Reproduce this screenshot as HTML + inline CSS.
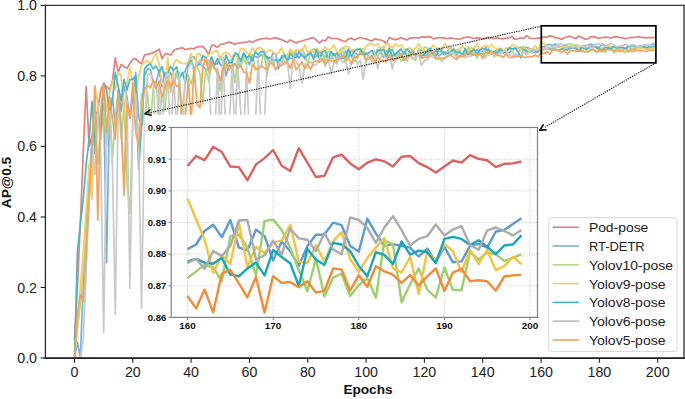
<!DOCTYPE html><html><head><meta charset="utf-8"><style>html,body{margin:0;padding:0;background:#fff;}svg{display:block;}</style></head><body><svg width="685" height="399" viewBox="0 0 685 399">
<defs><clipPath id="cm"><rect x="45.4" y="5.4" width="638.6" height="352.6"/></clipPath><clipPath id="ci"><rect x="171.2" y="127.5" width="366.3" height="189.9"/></clipPath></defs>
<rect width="685" height="399" fill="#fff"/>
<g clip-path="url(#cm)" fill="none" stroke-width="1.7" stroke-linejoin="round" stroke-linecap="butt" opacity="0.8">
<path d="M74.5,340.4 L77.4,287.5 L80.3,224.0 L83.2,153.5 L86.2,86.5 L89.1,146.4 L92.0,135.9 L94.9,114.7 L97.8,111.2 L100.7,90.0 L103.7,83.7 L106.6,86.5 L109.5,89.7 L112.4,81.2 L115.3,57.9 L118.2,72.4 L121.2,64.3 L124.1,66.8 L127.0,68.2 L129.9,63.6 L132.8,59.3 L135.7,58.6 L138.7,61.8 L141.6,63.9 L144.5,55.1 L147.4,54.4 L150.3,53.7 L153.2,52.6 L156.1,51.2 L159.1,49.1 L162.0,58.6 L164.9,54.4 L167.8,53.7 L170.7,55.1 L173.6,50.5 L176.6,49.1 L179.5,48.4 L182.4,47.7 L185.3,49.8 L188.2,48.8 L191.1,48.4 L194.1,48.8 L197.0,47.0 L199.9,46.7 L202.8,46.3 L205.7,49.8 L208.6,54.4 L211.6,45.6 L214.5,45.2 L217.4,47.4 L220.3,44.5 L223.2,43.8 L226.1,43.1 L229.0,42.1 L232.0,43.1 L234.9,44.5 L237.8,43.1 L240.7,42.8 L243.6,42.4 L246.5,42.1 L249.5,41.0 L252.4,42.4 L255.3,40.7 L258.2,39.6 L261.1,38.9 L264.0,38.5 L267.0,38.2 L269.9,39.2 L272.8,38.2 L275.7,37.8 L278.6,38.9 L281.5,39.6 L284.5,41.0 L287.4,42.4 L290.3,40.0 L293.2,41.4 L296.1,43.1 L299.0,41.7 L301.9,41.0 L304.9,40.0 L307.8,39.2 L310.7,38.2 L313.6,37.5 L316.5,40.3 L319.4,43.1 L322.4,40.0 L325.3,41.0 L328.2,36.8 L331.1,38.5 L334.0,38.5 L336.9,38.5 L339.9,39.6 L342.8,40.7 L345.7,41.7 L348.6,38.9 L351.5,38.2 L354.4,40.0 L357.4,38.5 L360.3,37.5 L363.2,38.5 L366.1,38.9 L369.0,40.0 L371.9,41.0 L374.8,38.9 L377.8,39.6 L380.7,40.0 L383.6,41.0 L386.5,43.5 L389.4,37.5 L392.3,38.9 L395.3,39.6 L398.2,38.9 L401.1,37.5 L404.0,38.9 L406.9,40.0 L409.8,38.2 L412.8,37.8 L415.7,37.5 L418.6,38.2 L421.5,36.8 L424.4,37.1 L427.3,36.8 L430.3,36.8 L433.2,38.9 L436.1,38.2 L439.0,37.5 L441.9,37.8 L444.8,38.2 L447.7,38.5 L450.7,37.8 L453.6,38.5 L456.5,38.9 L459.4,39.2 L462.3,38.2 L465.2,37.5 L468.2,36.8 L471.1,37.8 L474.0,38.5 L476.9,37.8 L479.8,38.2 L482.7,38.9 L485.7,38.2 L488.6,37.5 L491.5,38.2 L494.4,38.5 L497.3,37.8 L500.2,38.5 L503.2,38.9 L506.1,38.2 L509.0,37.8 L511.9,36.4 L514.8,39.2 L517.7,38.9 L520.6,37.8 L523.6,38.5 L526.5,35.7 L529.4,38.2 L532.3,38.5 L535.2,38.5 L538.1,38.2 L541.1,37.9 L544.0,36.8 L546.9,37.3 L549.8,35.8 L552.7,36.3 L555.6,38.0 L558.6,38.0 L561.5,39.5 L564.4,37.7 L567.3,37.0 L570.2,36.1 L573.1,37.9 L576.1,38.5 L579.0,35.9 L581.9,37.5 L584.8,39.1 L587.7,39.0 L590.6,36.9 L593.5,36.6 L596.5,37.6 L599.4,38.3 L602.3,37.5 L605.2,37.2 L608.1,37.4 L611.0,38.0 L614.0,36.9 L616.9,36.8 L619.8,37.6 L622.7,38.0 L625.6,38.6 L628.5,38.0 L631.5,37.3 L634.4,37.5 L637.3,36.7 L640.2,37.1 L643.1,37.3 L646.0,38.0 L649.0,37.7 L651.9,37.6 L654.8,37.4" stroke="#d9625f"/>
<path d="M74.5,358.0 L77.4,342.1 L80.3,358.0 L83.2,287.5 L86.2,224.0 L89.1,181.7 L92.0,139.4 L94.9,153.5 L97.8,111.2 L100.7,139.4 L103.7,104.1 L106.6,262.8 L109.5,111.2 L112.4,97.1 L115.3,125.3 L118.2,90.0 L121.2,111.2 L124.1,86.5 L127.0,97.1 L129.9,118.2 L132.8,97.1 L135.7,72.4 L138.7,118.2 L141.6,125.3 L144.5,75.9 L147.4,68.8 L150.3,69.0 L153.2,82.7 L156.1,82.3 L159.1,70.8 L162.0,86.5 L164.9,72.5 L167.8,77.5 L170.7,72.6 L173.6,84.7 L176.6,72.1 L179.5,77.9 L182.4,73.4 L185.3,71.0 L188.2,63.3 L191.1,56.4 L194.1,57.0 L197.0,62.6 L199.9,63.8 L202.8,66.1 L205.7,69.2 L208.6,69.1 L211.6,62.8 L214.5,64.7 L217.4,63.6 L220.3,56.5 L223.2,61.3 L226.1,75.9 L229.0,65.0 L232.0,67.7 L234.9,63.6 L237.8,65.9 L240.7,60.9 L243.6,54.3 L246.5,58.5 L249.5,64.8 L252.4,55.5 L255.3,56.6 L258.2,57.3 L261.1,55.0 L264.0,56.7 L267.0,56.3 L269.9,61.5 L272.8,53.6 L275.7,53.7 L278.6,68.9 L281.5,55.9 L284.5,56.3 L287.4,59.1 L290.3,58.1 L293.2,58.5 L296.1,53.2 L299.0,58.0 L301.9,54.0 L304.9,59.3 L307.8,53.1 L310.7,52.7 L313.6,57.6 L316.5,56.2 L319.4,52.1 L322.4,54.1 L325.3,56.6 L328.2,59.3 L331.1,58.0 L334.0,53.8 L336.9,59.4 L339.9,51.2 L342.8,57.9 L345.7,50.9 L348.6,57.1 L351.5,50.2 L354.4,52.6 L357.4,54.5 L360.3,54.2 L363.2,52.7 L366.1,53.2 L369.0,55.9 L371.9,56.8 L374.8,53.7 L377.8,49.5 L380.7,52.5 L383.6,57.7 L386.5,50.5 L389.4,51.4 L392.3,49.6 L395.3,56.2 L398.2,51.0 L401.1,57.3 L404.0,51.8 L406.9,55.1 L409.8,55.4 L412.8,49.6 L415.7,56.3 L418.6,52.6 L421.5,49.7 L424.4,54.8 L427.3,55.0 L430.3,49.3 L433.2,53.1 L436.1,50.6 L439.0,56.1 L441.9,53.3 L444.8,54.8 L447.7,50.7 L450.7,55.3 L453.6,48.4 L456.5,55.5 L459.4,50.0 L462.3,55.3 L465.2,53.4 L468.2,49.1 L471.1,53.9 L474.0,53.6 L476.9,49.8 L479.8,51.9 L482.7,54.2 L485.7,47.5 L488.6,53.2 L491.5,53.9 L494.4,51.7 L497.3,49.8 L500.2,48.8 L503.2,52.9 L506.1,51.3 L509.0,53.2 L511.9,50.4 L514.8,48.3 L517.7,48.4 L520.6,47.3 L523.6,48.1 L526.5,47.4 L529.4,48.3 L532.3,49.6 L535.2,50.9 L538.1,48.3 L541.1,47.2 L544.0,46.6 L546.9,45.1 L549.8,44.4 L552.7,45.8 L555.6,43.9 L558.6,47.0 L561.5,47.3 L564.4,45.0 L567.3,45.7 L570.2,48.4 L573.1,46.3 L576.1,47.4 L579.0,49.0 L581.9,46.8 L584.8,45.6 L587.7,45.5 L590.6,44.2 L593.5,44.5 L596.5,46.8 L599.4,47.4 L602.3,43.8 L605.2,45.4 L608.1,46.8 L611.0,46.6 L614.0,46.8 L616.9,47.0 L619.8,48.0 L622.7,47.1 L625.6,48.6 L628.5,46.9 L631.5,48.6 L634.4,48.5 L637.3,46.8 L640.2,46.6 L643.1,47.0 L646.0,45.2 L649.0,45.0 L651.9,44.4 L654.8,43.7" stroke="#5b9bd5"/>
<path d="M74.5,358.0 L77.4,329.8 L80.3,305.1 L83.2,269.9 L86.2,234.6 L89.1,199.3 L92.0,164.1 L94.9,118.2 L97.8,164.1 L100.7,125.3 L103.7,111.2 L106.6,146.4 L109.5,97.1 L112.4,160.5 L115.3,118.2 L118.2,93.5 L121.2,139.4 L124.1,104.1 L127.0,181.7 L129.9,213.4 L132.8,118.2 L135.7,86.5 L138.7,153.5 L141.6,93.5 L144.5,125.3 L147.4,92.7 L150.3,125.3 L153.2,88.9 L156.1,82.9 L159.1,118.2 L162.0,95.4 L164.9,111.2 L167.8,76.3 L170.7,89.8 L173.6,90.1 L176.6,71.8 L179.5,83.9 L182.4,111.2 L185.3,81.2 L188.2,75.1 L191.1,84.0 L194.1,72.1 L197.0,66.1 L199.9,73.3 L202.8,104.1 L205.7,68.5 L208.6,81.4 L211.6,65.2 L214.5,68.3 L217.4,74.0 L220.3,91.1 L223.2,60.3 L226.1,68.3 L229.0,62.4 L232.0,58.4 L234.9,83.0 L237.8,56.4 L240.7,67.0 L243.6,57.8 L246.5,64.7 L249.5,53.9 L252.4,54.5 L255.3,70.1 L258.2,68.7 L261.1,66.4 L264.0,50.6 L267.0,75.9 L269.9,57.2 L272.8,63.6 L275.7,59.3 L278.6,61.6 L281.5,62.1 L284.5,57.3 L287.4,57.2 L290.3,50.9 L293.2,55.0 L296.1,50.2 L299.0,51.5 L301.9,48.8 L304.9,54.7 L307.8,64.1 L310.7,50.9 L313.6,48.9 L316.5,49.9 L319.4,55.9 L322.4,53.2 L325.3,62.1 L328.2,50.8 L331.1,55.3 L334.0,60.2 L336.9,63.9 L339.9,50.0 L342.8,47.5 L345.7,62.9 L348.6,50.5 L351.5,57.0 L354.4,61.3 L357.4,58.7 L360.3,50.6 L363.2,48.7 L366.1,62.3 L369.0,52.8 L371.9,62.0 L374.8,51.1 L377.8,57.2 L380.7,48.4 L383.6,46.8 L386.5,54.3 L389.4,46.5 L392.3,57.2 L395.3,60.7 L398.2,52.6 L401.1,61.2 L404.0,58.5 L406.9,55.3 L409.8,52.2 L412.8,58.9 L415.7,60.4 L418.6,48.4 L421.5,56.3 L424.4,47.0 L427.3,47.9 L430.3,55.2 L433.2,54.0 L436.1,53.1 L439.0,51.3 L441.9,51.9 L444.8,52.4 L447.7,51.5 L450.7,47.2 L453.6,52.9 L456.5,53.8 L459.4,50.0 L462.3,56.1 L465.2,55.2 L468.2,46.6 L471.1,52.2 L474.0,51.8 L476.9,58.3 L479.8,53.3 L482.7,51.2 L485.7,57.8 L488.6,50.6 L491.5,50.4 L494.4,57.0 L497.3,50.3 L500.2,52.1 L503.2,49.6 L506.1,53.2 L509.0,49.1 L511.9,48.7 L514.8,56.5 L517.7,55.9 L520.6,49.2 L523.6,46.1 L526.5,53.5 L529.4,51.3 L532.3,49.8 L535.2,52.5 L538.1,52.0 L541.1,50.4 L544.0,49.6 L546.9,48.9 L549.8,49.2 L552.7,50.7 L555.6,45.7 L558.6,45.5 L561.5,47.0 L564.4,50.1 L567.3,44.0 L570.2,43.9 L573.1,45.0 L576.1,47.0 L579.0,49.5 L581.9,51.8 L584.8,48.2 L587.7,52.4 L590.6,50.3 L593.5,49.9 L596.5,52.4 L599.4,51.2 L602.3,50.4 L605.2,52.6 L608.1,46.2 L611.0,46.6 L614.0,53.1 L616.9,51.1 L619.8,49.3 L622.7,51.7 L625.6,52.6 L628.5,49.2 L631.5,51.7 L634.4,51.7 L637.3,47.5 L640.2,48.3 L643.1,47.5 L646.0,47.7 L649.0,48.5 L651.9,48.1 L654.8,47.7" stroke="#9bd16a"/>
<path d="M74.5,358.0 L77.4,322.7 L80.3,287.5 L83.2,252.2 L86.2,209.9 L89.1,164.1 L92.0,199.3 L94.9,86.5 L97.8,104.1 L100.7,139.4 L103.7,84.0 L106.6,111.2 L109.5,93.5 L112.4,80.5 L115.3,90.0 L118.2,72.4 L121.2,75.9 L124.1,111.2 L127.0,83.0 L129.9,67.5 L132.8,83.0 L135.7,97.1 L138.7,75.9 L141.6,64.6 L144.5,62.5 L147.4,60.1 L150.3,64.3 L153.2,58.3 L156.1,53.0 L159.1,64.3 L162.0,83.0 L164.9,90.0 L167.8,57.4 L170.7,92.5 L173.6,63.8 L176.6,59.6 L179.5,62.4 L182.4,63.3 L185.3,63.7 L188.2,62.1 L191.1,53.2 L194.1,75.9 L197.0,54.0 L199.9,53.7 L202.8,60.5 L205.7,58.7 L208.6,54.7 L211.6,53.1 L214.5,51.4 L217.4,50.8 L220.3,59.5 L223.2,53.3 L226.1,52.4 L229.0,54.0 L232.0,57.4 L234.9,53.9 L237.8,57.9 L240.7,48.3 L243.6,48.9 L246.5,52.1 L249.5,54.6 L252.4,47.8 L255.3,51.2 L258.2,47.6 L261.1,47.8 L264.0,51.1 L267.0,52.0 L269.9,50.0 L272.8,51.7 L275.7,54.4 L278.6,52.8 L281.5,47.4 L284.5,55.2 L287.4,55.1 L290.3,49.1 L293.2,52.4 L296.1,49.8 L299.0,50.3 L301.9,51.5 L304.9,44.9 L307.8,52.7 L310.7,50.5 L313.6,52.4 L316.5,48.1 L319.4,51.5 L322.4,50.6 L325.3,46.8 L328.2,50.7 L331.1,48.4 L334.0,45.0 L336.9,52.4 L339.9,52.7 L342.8,51.0 L345.7,46.0 L348.6,47.3 L351.5,50.6 L354.4,49.6 L357.4,50.9 L360.3,48.3 L363.2,51.8 L366.1,46.0 L369.0,44.2 L371.9,43.7 L374.8,45.6 L377.8,43.7 L380.7,51.7 L383.6,49.4 L386.5,43.6 L389.4,45.2 L392.3,48.2 L395.3,43.8 L398.2,46.5 L401.1,44.8 L404.0,49.1 L406.9,49.9 L409.8,47.8 L412.8,50.2 L415.7,48.2 L418.6,43.7 L421.5,48.6 L424.4,51.0 L427.3,50.7 L430.3,49.7 L433.2,45.0 L436.1,48.2 L439.0,48.7 L441.9,50.1 L444.8,43.5 L447.7,47.6 L450.7,49.2 L453.6,50.2 L456.5,50.2 L459.4,49.4 L462.3,45.8 L465.2,49.6 L468.2,50.3 L471.1,47.2 L474.0,48.9 L476.9,43.8 L479.8,49.8 L482.7,47.0 L485.7,45.4 L488.6,47.9 L491.5,44.1 L494.4,47.5 L497.3,49.0 L500.2,48.0 L503.2,50.3 L506.1,47.9 L509.0,49.0 L511.9,45.1 L514.8,45.5 L517.7,47.5 L520.6,50.4 L523.6,49.0 L526.5,49.1 L529.4,49.3 L532.3,49.2 L535.2,45.5 L538.1,49.7 L541.1,41.5 L544.0,43.8 L546.9,46.1 L549.8,49.8 L552.7,47.8 L555.6,48.8 L558.6,44.3 L561.5,49.1 L564.4,46.9 L567.3,47.6 L570.2,46.4 L573.1,46.2 L576.1,44.4 L579.0,48.5 L581.9,48.7 L584.8,46.7 L587.7,48.5 L590.6,46.3 L593.5,45.2 L596.5,48.2 L599.4,49.7 L602.3,48.1 L605.2,47.0 L608.1,45.9 L611.0,49.3 L614.0,49.8 L616.9,48.0 L619.8,52.1 L622.7,47.5 L625.6,48.4 L628.5,46.6 L631.5,47.4 L634.4,49.7 L637.3,47.3 L640.2,48.8 L643.1,47.3 L646.0,49.5 L649.0,49.0 L651.9,48.0 L654.8,48.9" stroke="#f3c241"/>
<path d="M74.5,358.0 L77.4,252.2 L80.3,224.0 L83.2,199.3 L86.2,164.1 L89.1,139.4 L92.0,101.7 L94.9,146.4 L97.8,111.2 L100.7,132.3 L103.7,83.0 L106.6,90.0 L109.5,112.9 L112.4,100.6 L115.3,72.4 L118.2,86.5 L121.2,100.6 L124.1,79.4 L127.0,90.0 L129.9,79.4 L132.8,79.4 L135.7,75.9 L138.7,169.4 L141.6,125.3 L144.5,68.9 L147.4,65.3 L150.3,63.9 L153.2,68.9 L156.1,66.0 L159.1,72.4 L162.0,66.6 L164.9,78.9 L167.8,72.9 L170.7,66.4 L173.6,70.4 L176.6,67.0 L179.5,77.6 L182.4,72.8 L185.3,83.0 L188.2,64.8 L191.1,60.8 L194.1,68.0 L197.0,65.2 L199.9,64.1 L202.8,55.7 L205.7,57.5 L208.6,65.1 L211.6,56.8 L214.5,65.0 L217.4,58.7 L220.3,64.7 L223.2,66.0 L226.1,55.0 L229.0,62.9 L232.0,62.6 L234.9,53.0 L237.8,54.1 L240.7,61.0 L243.6,52.6 L246.5,57.5 L249.5,55.6 L252.4,61.0 L255.3,52.0 L258.2,54.8 L261.1,51.3 L264.0,52.0 L267.0,58.7 L269.9,57.9 L272.8,60.0 L275.7,60.1 L278.6,60.9 L281.5,58.2 L284.5,54.7 L287.4,61.2 L290.3,53.7 L293.2,57.3 L296.1,57.5 L299.0,51.9 L301.9,55.4 L304.9,57.1 L307.8,55.2 L310.7,52.7 L313.6,59.5 L316.5,49.7 L319.4,59.6 L322.4,51.9 L325.3,50.9 L328.2,59.2 L331.1,51.3 L334.0,55.5 L336.9,53.2 L339.9,58.8 L342.8,58.3 L345.7,56.8 L348.6,49.2 L351.5,56.5 L354.4,50.9 L357.4,49.2 L360.3,49.0 L363.2,54.6 L366.1,54.4 L369.0,52.7 L371.9,50.4 L374.8,56.5 L377.8,50.6 L380.7,50.1 L383.6,49.5 L386.5,56.9 L389.4,48.8 L392.3,56.3 L395.3,54.0 L398.2,51.6 L401.1,49.0 L404.0,53.9 L406.9,48.9 L409.8,52.1 L412.8,54.0 L415.7,53.9 L418.6,55.0 L421.5,55.8 L424.4,55.2 L427.3,50.7 L430.3,48.2 L433.2,54.9 L436.1,55.7 L439.0,48.3 L441.9,51.8 L444.8,52.8 L447.7,54.0 L450.7,51.3 L453.6,49.5 L456.5,52.2 L459.4,52.4 L462.3,55.1 L465.2,48.7 L468.2,55.1 L471.1,51.7 L474.0,49.2 L476.9,54.2 L479.8,49.9 L482.7,48.4 L485.7,50.5 L488.6,49.4 L491.5,54.0 L494.4,51.7 L497.3,53.5 L500.2,48.9 L503.2,52.5 L506.1,51.4 L509.0,47.9 L511.9,48.8 L514.8,48.0 L517.7,51.2 L520.6,57.9 L523.6,49.4 L526.5,50.9 L529.4,52.0 L532.3,51.2 L535.2,52.7 L538.1,51.3 L541.1,48.5 L544.0,48.2 L546.9,48.7 L549.8,48.8 L552.7,48.1 L555.6,50.0 L558.6,50.2 L561.5,49.3 L564.4,48.7 L567.3,50.1 L570.2,47.3 L573.1,48.0 L576.1,48.7 L579.0,51.3 L581.9,47.1 L584.8,48.3 L587.7,48.9 L590.6,46.5 L593.5,46.6 L596.5,47.4 L599.4,49.0 L602.3,50.2 L605.2,47.5 L608.1,47.8 L611.0,48.8 L614.0,46.3 L616.9,47.8 L619.8,47.3 L622.7,47.5 L625.6,48.7 L628.5,46.0 L631.5,45.8 L634.4,46.0 L637.3,46.7 L640.2,46.2 L643.1,46.9 L646.0,47.7 L649.0,46.8 L651.9,46.6 L654.8,45.6" stroke="#1ba5b8"/>
<path d="M74.5,358.0 L77.4,358.0 L80.3,358.0 L83.2,340.4 L86.2,269.9 L89.1,199.3 L92.0,146.4 L94.9,174.6 L97.8,111.2 L100.7,153.5 L103.7,332.3 L106.6,125.3 L109.5,111.2 L112.4,164.1 L115.3,314.3 L118.2,104.1 L121.2,125.3 L124.1,181.7 L127.0,100.6 L129.9,288.5 L132.8,118.2 L135.7,93.5 L138.7,146.4 L141.6,308.3 L144.5,128.8 L147.4,74.6 L150.3,73.9 L153.2,78.9 L156.1,139.4 L159.1,85.7 L162.0,135.9 L164.9,78.0 L167.8,73.4 L170.7,146.4 L173.6,72.7 L176.6,132.3 L179.5,71.8 L182.4,139.4 L185.3,73.6 L188.2,68.3 L191.1,62.7 L194.1,69.4 L197.0,63.9 L199.9,60.0 L202.8,67.2 L205.7,59.3 L208.6,60.6 L211.6,139.4 L214.5,146.4 L217.4,67.8 L220.3,139.4 L223.2,57.8 L226.1,146.4 L229.0,132.3 L232.0,66.3 L234.9,135.9 L237.8,65.3 L240.7,111.9 L243.6,139.4 L246.5,66.8 L249.5,139.4 L252.4,132.3 L255.3,125.3 L258.2,58.1 L261.1,132.3 L264.0,132.3 L267.0,61.0 L269.9,59.5 L272.8,57.3 L275.7,68.9 L278.6,64.6 L281.5,61.6 L284.5,65.0 L287.4,61.5 L290.3,88.3 L293.2,57.8 L296.1,61.8 L299.0,66.5 L301.9,83.0 L304.9,63.9 L307.8,65.1 L310.7,61.7 L313.6,65.5 L316.5,64.5 L319.4,57.0 L322.4,58.8 L325.3,66.2 L328.2,57.6 L331.1,74.2 L334.0,62.2 L336.9,56.0 L339.9,58.9 L342.8,62.1 L345.7,61.2 L348.6,73.8 L351.5,63.5 L354.4,54.4 L357.4,64.0 L360.3,60.0 L363.2,79.4 L366.1,60.0 L369.0,54.1 L371.9,61.3 L374.8,53.9 L377.8,68.9 L380.7,56.8 L383.6,54.6 L386.5,58.7 L389.4,54.9 L392.3,68.9 L395.3,57.7 L398.2,58.0 L401.1,55.7 L404.0,58.3 L406.9,61.1 L409.8,55.0 L412.8,59.2 L415.7,57.1 L418.6,54.4 L421.5,65.3 L424.4,60.7 L427.3,59.7 L430.3,55.7 L433.2,57.5 L436.1,58.2 L439.0,56.5 L441.9,61.8 L444.8,57.8 L447.7,56.4 L450.7,52.6 L453.6,54.6 L456.5,57.2 L459.4,55.4 L462.3,55.3 L465.2,57.7 L468.2,55.8 L471.1,56.2 L474.0,52.4 L476.9,55.8 L479.8,53.3 L482.7,50.9 L485.7,51.2 L488.6,54.9 L491.5,53.2 L494.4,55.0 L497.3,54.4 L500.2,53.7 L503.2,51.5 L506.1,50.5 L509.0,54.6 L511.9,56.3 L514.8,53.3 L517.7,55.6 L520.6,55.7 L523.6,51.0 L526.5,54.9 L529.4,51.1 L532.3,53.1 L535.2,49.6 L538.1,50.0 L541.1,48.7 L544.0,48.2 L546.9,49.4 L549.8,47.4 L552.7,47.9 L555.6,46.8 L558.6,44.0 L561.5,43.9 L564.4,48.3 L567.3,47.8 L570.2,46.2 L573.1,47.8 L576.1,44.9 L579.0,46.0 L581.9,46.1 L584.8,47.4 L587.7,45.3 L590.6,47.2 L593.5,47.7 L596.5,43.6 L599.4,43.9 L602.3,44.8 L605.2,46.5 L608.1,44.7 L611.0,43.5 L614.0,45.0 L616.9,46.8 L619.8,46.0 L622.7,45.7 L625.6,44.4 L628.5,45.6 L631.5,45.0 L634.4,44.6 L637.3,46.7 L640.2,47.2 L643.1,45.1 L646.0,44.7 L649.0,45.1 L651.9,45.6 L654.8,45.0" stroke="#bcbcbc"/>
<path d="M74.5,358.0 L77.4,315.7 L80.3,294.5 L83.2,301.6 L86.2,252.2 L89.1,199.3 L92.0,146.4 L94.9,85.8 L97.8,220.5 L100.7,111.2 L103.7,83.0 L106.6,132.3 L109.5,97.1 L112.4,118.2 L115.3,139.4 L118.2,93.5 L121.2,125.3 L124.1,195.1 L127.0,104.1 L129.9,118.2 L132.8,83.0 L135.7,132.3 L138.7,146.4 L141.6,111.2 L144.5,90.0 L147.4,85.4 L150.3,87.8 L153.2,79.8 L156.1,88.4 L159.1,81.1 L162.0,97.1 L164.9,87.7 L167.8,80.7 L170.7,87.4 L173.6,81.2 L176.6,86.3 L179.5,85.7 L182.4,125.3 L185.3,118.2 L188.2,79.0 L191.1,121.8 L194.1,67.7 L197.0,104.1 L199.9,107.7 L202.8,67.9 L205.7,58.6 L208.6,71.8 L211.6,60.5 L214.5,68.5 L217.4,70.6 L220.3,80.9 L223.2,68.5 L226.1,61.7 L229.0,70.3 L232.0,65.0 L234.9,64.4 L237.8,68.0 L240.7,65.8 L243.6,72.2 L246.5,72.3 L249.5,83.0 L252.4,64.4 L255.3,67.8 L258.2,69.3 L261.1,65.9 L264.0,67.7 L267.0,69.4 L269.9,63.1 L272.8,64.1 L275.7,69.6 L278.6,65.4 L281.5,65.8 L284.5,61.4 L287.4,63.0 L290.3,68.2 L293.2,59.8 L296.1,69.8 L299.0,66.1 L301.9,62.0 L304.9,68.8 L307.8,64.8 L310.7,69.5 L313.6,62.0 L316.5,60.6 L319.4,62.4 L322.4,58.7 L325.3,64.6 L328.2,60.0 L331.1,60.8 L334.0,60.6 L336.9,61.6 L339.9,57.1 L342.8,55.7 L345.7,60.3 L348.6,58.0 L351.5,63.9 L354.4,56.9 L357.4,57.1 L360.3,53.3 L363.2,54.7 L366.1,59.7 L369.0,58.7 L371.9,55.8 L374.8,62.1 L377.8,57.7 L380.7,60.5 L383.6,60.9 L386.5,61.4 L389.4,54.6 L392.3,60.5 L395.3,59.3 L398.2,57.9 L401.1,53.5 L404.0,60.6 L406.9,57.2 L409.8,56.3 L412.8,53.2 L415.7,53.8 L418.6,53.4 L421.5,58.4 L424.4,57.1 L427.3,57.6 L430.3,53.1 L433.2,52.4 L436.1,59.1 L439.0,58.8 L441.9,58.2 L444.8,58.1 L447.7,56.1 L450.7,55.2 L453.6,57.7 L456.5,59.6 L459.4,56.3 L462.3,56.6 L465.2,55.1 L468.2,52.1 L471.1,54.1 L474.0,55.3 L476.9,54.5 L479.8,54.0 L482.7,58.4 L485.7,52.4 L488.6,53.2 L491.5,52.5 L494.4,53.0 L497.3,55.7 L500.2,55.6 L503.2,57.4 L506.1,53.9 L509.0,57.5 L511.9,57.4 L514.8,56.4 L517.7,56.6 L520.6,55.5 L523.6,57.1 L526.5,57.4 L529.4,56.4 L532.3,56.6 L535.2,55.0 L538.1,56.8 L541.1,52.4 L544.0,53.8 L546.9,51.7 L549.8,54.2 L552.7,49.9 L555.6,49.5 L558.6,51.0 L561.5,52.5 L564.4,50.2 L567.3,54.2 L570.2,50.2 L573.1,50.9 L576.1,50.8 L579.0,51.4 L581.9,50.7 L584.8,52.0 L587.7,51.8 L590.6,49.3 L593.5,49.4 L596.5,51.8 L599.4,50.1 L602.3,51.4 L605.2,49.1 L608.1,49.6 L611.0,50.0 L614.0,50.9 L616.9,50.1 L619.8,51.2 L622.7,50.2 L625.6,49.3 L628.5,51.8 L631.5,49.8 L634.4,49.4 L637.3,50.7 L640.2,50.6 L643.1,50.7 L646.0,51.8 L649.0,50.2 L651.9,50.1 L654.8,50.0" stroke="#f08c35"/>
</g>
<rect x="541.3" y="25.8" width="114.6" height="37.0" fill="none" stroke="#000" stroke-width="1.7"/>
<g stroke="#111" stroke-width="1.1" stroke-dasharray="1.3,1.1" fill="none"><line x1="540.8" y1="26.3" x2="146" y2="113.6"/><line x1="655.9" y1="62.8" x2="541.5" y2="129.2"/></g>
<rect x="144.6" y="114.7" width="400" height="224" fill="#fff"/>
<g stroke="#c4c4c4" stroke-width="0.8" stroke-dasharray="1.2,1.3" fill="none">
<line x1="187.5" y1="127.5" x2="187.5" y2="317.4"/>
<line x1="273.1" y1="127.5" x2="273.1" y2="317.4"/>
<line x1="358.8" y1="127.5" x2="358.8" y2="317.4"/>
<line x1="444.4" y1="127.5" x2="444.4" y2="317.4"/>
<line x1="530.0" y1="127.5" x2="530.0" y2="317.4"/>
<line x1="171.2" y1="317.4" x2="537.5" y2="317.4"/>
<line x1="171.2" y1="285.8" x2="537.5" y2="285.8"/>
<line x1="171.2" y1="254.1" x2="537.5" y2="254.1"/>
<line x1="171.2" y1="222.5" x2="537.5" y2="222.5"/>
<line x1="171.2" y1="190.8" x2="537.5" y2="190.8"/>
<line x1="171.2" y1="159.2" x2="537.5" y2="159.2"/>
<line x1="171.2" y1="127.5" x2="537.5" y2="127.5"/>
</g>
<g clip-path="url(#ci)" fill="none" stroke-width="2.4" stroke-linejoin="round">
<path d="M187.5,166.0 L196.1,156.0 L204.6,160.2 L213.2,146.8 L221.8,152.1 L230.3,166.5 L238.9,167.1 L247.4,180.2 L256.0,164.4 L264.6,158.1 L273.1,150.0 L281.7,165.7 L290.2,171.0 L298.8,148.1 L307.4,162.6 L315.9,177.0 L324.5,175.7 L333.1,157.3 L341.6,154.7 L350.2,163.4 L358.8,169.2 L367.3,162.6 L375.9,159.4 L384.4,161.3 L393.0,166.5 L401.6,156.8 L410.1,156.0 L418.7,163.1 L427.2,167.1 L435.8,172.6 L444.4,166.5 L452.9,160.5 L461.5,162.6 L470.1,155.2 L478.6,158.9 L487.2,160.2 L495.8,167.1 L504.3,163.9 L512.9,163.4 L521.4,161.5" stroke="#d9625f"/>
<path d="M187.5,249.1 L196.1,244.5 L204.6,231.0 L213.2,224.8 L221.8,237.1 L230.3,220.1 L238.9,247.6 L247.4,250.3 L256.0,229.6 L264.6,236.2 L273.1,260.5 L281.7,241.5 L290.2,251.2 L298.8,265.8 L307.4,245.9 L315.9,234.8 L324.5,234.5 L333.1,222.6 L341.6,225.2 L350.2,245.9 L358.8,251.5 L367.3,218.7 L375.9,233.6 L384.4,245.9 L393.0,244.1 L401.6,245.9 L410.1,247.6 L418.7,256.5 L427.2,248.5 L435.8,262.0 L444.4,246.8 L452.9,262.3 L461.5,261.4 L470.1,245.9 L478.6,243.8 L487.2,247.6 L495.8,231.5 L504.3,230.1 L512.9,224.0 L521.4,218.2" stroke="#5b9bd5"/>
<path d="M187.5,278.1 L196.1,271.4 L204.6,264.9 L213.2,267.5 L221.8,281.2 L230.3,236.2 L238.9,234.5 L247.4,247.6 L256.0,275.4 L264.6,221.0 L273.1,219.6 L281.7,230.1 L290.2,247.6 L298.8,270.0 L307.4,291.2 L315.9,258.8 L324.5,296.5 L333.1,277.7 L341.6,273.7 L350.2,296.0 L358.8,285.1 L367.3,278.1 L375.9,297.7 L384.4,240.6 L393.0,244.1 L401.6,302.3 L410.1,284.2 L418.7,268.4 L427.2,289.5 L435.8,297.7 L444.4,267.5 L452.9,290.0 L461.5,290.0 L470.1,251.8 L478.6,259.6 L487.2,252.6 L495.8,254.4 L504.3,260.9 L512.9,257.9 L521.4,254.4" stroke="#9bd16a"/>
<path d="M187.5,198.5 L196.1,219.2 L204.6,239.8 L213.2,272.8 L221.8,255.3 L230.3,264.0 L238.9,223.1 L247.4,266.7 L256.0,246.8 L264.6,252.9 L273.1,242.4 L281.7,240.6 L290.2,224.8 L298.8,261.4 L307.4,263.2 L315.9,245.0 L324.5,261.4 L333.1,241.5 L341.6,231.9 L350.2,258.8 L358.8,271.9 L367.3,257.9 L375.9,247.6 L384.4,238.0 L393.0,268.4 L401.6,272.5 L410.1,257.0 L418.7,293.9 L427.2,251.8 L435.8,260.5 L444.4,244.1 L452.9,251.2 L461.5,271.9 L470.1,250.0 L478.6,264.0 L487.2,250.0 L495.8,270.2 L504.3,266.1 L512.9,256.7 L521.4,264.4" stroke="#f3c241"/>
<path d="M187.5,261.4 L196.1,258.8 L204.6,262.6 L213.2,263.7 L221.8,257.9 L230.3,274.6 L238.9,276.3 L247.4,268.4 L256.0,262.6 L264.6,275.4 L273.1,250.0 L281.7,257.0 L290.2,263.2 L298.8,286.0 L307.4,249.0 L315.9,259.6 L324.5,264.9 L333.1,242.9 L341.6,244.5 L350.2,251.2 L358.8,266.0 L367.3,276.3 L375.9,252.1 L384.4,254.9 L393.0,264.0 L401.6,241.5 L410.1,254.6 L418.7,250.6 L427.2,252.3 L435.8,263.2 L444.4,238.9 L452.9,236.8 L461.5,238.9 L470.1,245.0 L478.6,240.3 L487.2,246.8 L495.8,254.1 L504.3,245.5 L512.9,244.5 L521.4,235.4" stroke="#1ba5b8"/>
<path d="M187.5,263.2 L196.1,258.8 L204.6,268.9 L213.2,251.0 L221.8,256.0 L230.3,245.9 L238.9,220.5 L247.4,219.9 L256.0,259.6 L264.6,255.3 L273.1,240.6 L281.7,254.7 L290.2,228.7 L298.8,238.4 L307.4,239.8 L315.9,251.2 L324.5,232.7 L333.1,249.4 L341.6,254.3 L350.2,217.5 L358.8,219.8 L367.3,227.8 L375.9,242.9 L384.4,227.5 L393.0,216.1 L401.6,230.1 L410.1,245.5 L418.7,238.9 L427.2,236.2 L435.8,224.5 L444.4,235.4 L452.9,229.6 L461.5,226.2 L470.1,245.0 L478.6,249.8 L487.2,230.6 L495.8,227.5 L504.3,231.0 L512.9,235.4 L521.4,230.1" stroke="#ababab"/>
<path d="M187.5,296.0 L196.1,308.4 L204.6,289.5 L213.2,312.3 L221.8,273.7 L230.3,269.8 L238.9,283.3 L247.4,297.4 L256.0,276.7 L264.6,312.6 L273.1,276.1 L281.7,283.0 L290.2,281.9 L298.8,287.2 L307.4,281.2 L315.9,292.6 L324.5,290.7 L333.1,268.4 L341.6,269.6 L350.2,290.7 L358.8,275.2 L367.3,286.8 L375.9,266.3 L384.4,271.4 L393.0,274.6 L401.6,282.8 L410.1,275.1 L418.7,285.6 L427.2,276.3 L435.8,268.4 L444.4,291.0 L452.9,272.6 L461.5,268.9 L470.1,281.2 L478.6,280.2 L487.2,281.2 L495.8,290.7 L504.3,276.3 L512.9,275.4 L521.4,274.9" stroke="#f08c35"/>
</g>
<rect x="171.2" y="127.5" width="366.3" height="189.9" fill="none" stroke="#808080" stroke-width="1.2"/>
<g stroke="#808080" stroke-width="1">
<line x1="187.5" y1="317.4" x2="187.5" y2="320"/>
<line x1="273.1" y1="317.4" x2="273.1" y2="320"/>
<line x1="358.8" y1="317.4" x2="358.8" y2="320"/>
<line x1="444.4" y1="317.4" x2="444.4" y2="320"/>
<line x1="530.0" y1="317.4" x2="530.0" y2="320"/>
<line x1="168.6" y1="317.4" x2="171.2" y2="317.4"/>
<line x1="168.6" y1="285.8" x2="171.2" y2="285.8"/>
<line x1="168.6" y1="254.1" x2="171.2" y2="254.1"/>
<line x1="168.6" y1="222.5" x2="171.2" y2="222.5"/>
<line x1="168.6" y1="190.8" x2="171.2" y2="190.8"/>
<line x1="168.6" y1="159.2" x2="171.2" y2="159.2"/>
<line x1="168.6" y1="127.5" x2="171.2" y2="127.5"/>
</g>
<g font-family="Liberation Sans, sans-serif" font-weight="bold" font-size="8.8" fill="#111">
<text x="187.5" y="328.9" text-anchor="middle" textLength="16.5" lengthAdjust="spacingAndGlyphs">160</text>
<text x="273.1" y="328.9" text-anchor="middle" textLength="16.5" lengthAdjust="spacingAndGlyphs">170</text>
<text x="358.8" y="328.9" text-anchor="middle" textLength="16.5" lengthAdjust="spacingAndGlyphs">180</text>
<text x="444.4" y="328.9" text-anchor="middle" textLength="16.5" lengthAdjust="spacingAndGlyphs">190</text>
<text x="530.0" y="328.9" text-anchor="middle" textLength="16.5" lengthAdjust="spacingAndGlyphs">200</text>
<text x="166.4" y="320.7" text-anchor="end" textLength="18.6" lengthAdjust="spacingAndGlyphs">0.86</text>
<text x="166.4" y="289.1" text-anchor="end" textLength="18.6" lengthAdjust="spacingAndGlyphs">0.87</text>
<text x="166.4" y="257.4" text-anchor="end" textLength="18.6" lengthAdjust="spacingAndGlyphs">0.88</text>
<text x="166.4" y="225.8" text-anchor="end" textLength="18.6" lengthAdjust="spacingAndGlyphs">0.89</text>
<text x="166.4" y="194.1" text-anchor="end" textLength="18.6" lengthAdjust="spacingAndGlyphs">0.90</text>
<text x="166.4" y="162.5" text-anchor="end" textLength="18.6" lengthAdjust="spacingAndGlyphs">0.91</text>
<text x="166.4" y="130.8" text-anchor="end" textLength="18.6" lengthAdjust="spacingAndGlyphs">0.92</text>
</g>
<path d="M149.8,109.9 L145.0,113.8 L151.0,115.3" fill="none" stroke="#111" stroke-width="1.7" stroke-linejoin="round" stroke-linecap="round"/>
<path d="M543.2,125.0 L539.8,130.2 L546.0,129.9" fill="none" stroke="#111" stroke-width="1.7" stroke-linejoin="round" stroke-linecap="round"/>
<rect x="548.8" y="217.7" width="128.2" height="133.9" rx="2.5" fill="#fff" fill-opacity="0.85" stroke="#d6d6d6" stroke-width="1"/>
<line x1="552.6" y1="227.2" x2="579" y2="227.2" stroke="#d9625f" stroke-width="1.5" opacity="0.85"/>
<text x="588.9" y="232.2" font-family="Liberation Sans, sans-serif" font-size="12.4" fill="#222" textLength="59.4" lengthAdjust="spacingAndGlyphs">Pod-pose</text>
<line x1="552.6" y1="246.0" x2="579" y2="246.0" stroke="#5b9bd5" stroke-width="1.5" opacity="0.85"/>
<text x="588.9" y="251.0" font-family="Liberation Sans, sans-serif" font-size="12.4" fill="#222" textLength="55.8" lengthAdjust="spacingAndGlyphs">RT-DETR</text>
<line x1="552.6" y1="264.8" x2="579" y2="264.8" stroke="#9bd16a" stroke-width="1.5" opacity="0.85"/>
<text x="588.9" y="269.8" font-family="Liberation Sans, sans-serif" font-size="12.4" fill="#222" textLength="84.2" lengthAdjust="spacingAndGlyphs">Yolov10-pose</text>
<line x1="552.6" y1="283.6" x2="579" y2="283.6" stroke="#f3c241" stroke-width="1.5" opacity="0.85"/>
<text x="588.9" y="288.6" font-family="Liberation Sans, sans-serif" font-size="12.4" fill="#222" textLength="76.6" lengthAdjust="spacingAndGlyphs">Yolov9-pose</text>
<line x1="552.6" y1="302.4" x2="579" y2="302.4" stroke="#1ba5b8" stroke-width="1.5" opacity="0.85"/>
<text x="588.9" y="307.4" font-family="Liberation Sans, sans-serif" font-size="12.4" fill="#222" textLength="76.6" lengthAdjust="spacingAndGlyphs">Yolov8-pose</text>
<line x1="552.6" y1="321.2" x2="579" y2="321.2" stroke="#ababab" stroke-width="1.5" opacity="0.85"/>
<text x="588.9" y="326.2" font-family="Liberation Sans, sans-serif" font-size="12.4" fill="#222" textLength="76.6" lengthAdjust="spacingAndGlyphs">Yolov6-pose</text>
<line x1="552.6" y1="340.0" x2="579" y2="340.0" stroke="#f08c35" stroke-width="1.5" opacity="0.85"/>
<text x="588.9" y="345.0" font-family="Liberation Sans, sans-serif" font-size="12.4" fill="#222" textLength="76.6" lengthAdjust="spacingAndGlyphs">Yolov5-pose</text>
<g stroke="#2a2a2a" fill="none"><line x1="44.8" y1="5.4" x2="684.6" y2="5.4" stroke-width="1.2" stroke="#3a3a3a"/><line x1="45.4" y1="4.8" x2="45.4" y2="358.9" stroke-width="1.3"/><line x1="44.6" y1="358.1" x2="684.6" y2="358.1" stroke-width="1.7" stroke="#1e1e1e"/><line x1="684" y1="4.8" x2="684" y2="358.9" stroke-width="1.3"/></g>
<g stroke="#222" stroke-width="1.1">
<line x1="74.5" y1="358" x2="74.5" y2="362.8"/>
<line x1="132.8" y1="358" x2="132.8" y2="362.8"/>
<line x1="191.1" y1="358" x2="191.1" y2="362.8"/>
<line x1="249.5" y1="358" x2="249.5" y2="362.8"/>
<line x1="307.8" y1="358" x2="307.8" y2="362.8"/>
<line x1="366.1" y1="358" x2="366.1" y2="362.8"/>
<line x1="424.4" y1="358" x2="424.4" y2="362.8"/>
<line x1="482.7" y1="358" x2="482.7" y2="362.8"/>
<line x1="541.1" y1="358" x2="541.1" y2="362.8"/>
<line x1="599.4" y1="358" x2="599.4" y2="362.8"/>
<line x1="657.7" y1="358" x2="657.7" y2="362.8"/>
<line x1="40.6" y1="358.0" x2="45.4" y2="358.0"/>
<line x1="40.6" y1="287.5" x2="45.4" y2="287.5"/>
<line x1="40.6" y1="217.0" x2="45.4" y2="217.0"/>
<line x1="40.6" y1="146.4" x2="45.4" y2="146.4"/>
<line x1="40.6" y1="75.9" x2="45.4" y2="75.9"/>
<line x1="40.6" y1="5.4" x2="45.4" y2="5.4"/>
</g>
<g font-family="Liberation Sans, sans-serif" font-size="14.2" fill="#222">
<text x="74.5" y="376.9" text-anchor="middle">0</text>
<text x="132.8" y="376.9" text-anchor="middle">20</text>
<text x="191.1" y="376.9" text-anchor="middle">40</text>
<text x="249.5" y="376.9" text-anchor="middle">60</text>
<text x="307.8" y="376.9" text-anchor="middle">80</text>
<text x="366.1" y="376.9" text-anchor="middle">100</text>
<text x="424.4" y="376.9" text-anchor="middle">120</text>
<text x="482.7" y="376.9" text-anchor="middle">140</text>
<text x="541.1" y="376.9" text-anchor="middle">160</text>
<text x="599.4" y="376.9" text-anchor="middle">180</text>
<text x="657.7" y="376.9" text-anchor="middle">200</text>
<text x="37.0" y="363.0" text-anchor="end">0.0</text>
<text x="37.0" y="292.5" text-anchor="end">0.2</text>
<text x="37.0" y="222.0" text-anchor="end">0.4</text>
<text x="37.0" y="151.4" text-anchor="end">0.6</text>
<text x="37.0" y="80.9" text-anchor="end">0.8</text>
<text x="37.0" y="10.4" text-anchor="end">1.0</text>
</g>
<text x="368" y="394.3" font-family="Liberation Sans, sans-serif" font-size="13.3" font-weight="bold" fill="#111" text-anchor="middle" textLength="49.2" lengthAdjust="spacingAndGlyphs">Epochs</text>
<text transform="translate(11,182.5) rotate(-90)" font-family="Liberation Sans, sans-serif" font-size="13" font-weight="bold" fill="#111" text-anchor="middle" textLength="51.3" lengthAdjust="spacingAndGlyphs">AP@0.5</text>
</svg></body></html>
